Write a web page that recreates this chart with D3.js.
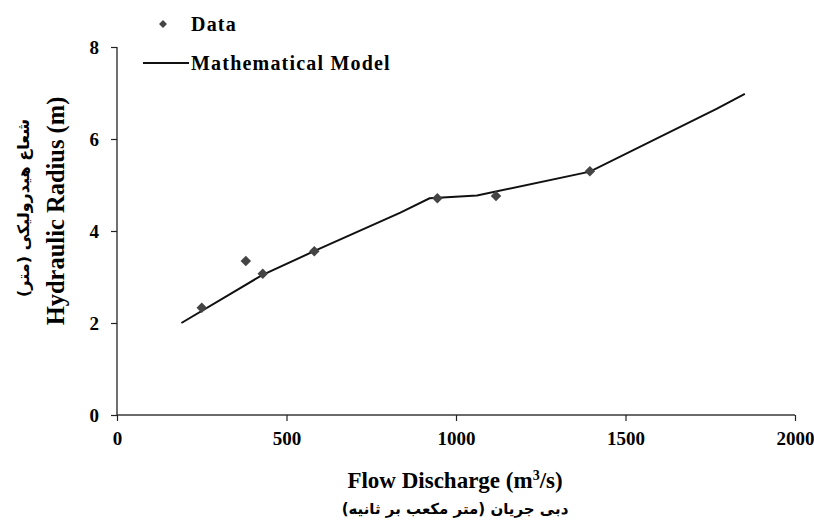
<!DOCTYPE html>
<html>
<head>
<meta charset="utf-8">
<script src="https://cdn.jsdelivr.net/npm/d3@7"></script>
<style>
  html, body { margin: 0; padding: 0; background: #fff; }
  svg { display: block; }
  .lat { font-family: "Liberation Serif", "Times New Roman", serif; font-weight: bold; fill: #000; }
  .fa { font-family: "DejaVu Sans", "Noto Sans", sans-serif; font-weight: bold; fill: #000; }
</style>
</head>
<body>
<svg id="chart" width="814" height="523"></svg>
<script>
// Measured discharge (m3/s) and hydraulic radius (m)
const dataQ = [250, 380, 430, 582, 945, 1118, 1395];
const dataR = [2.33, 3.35, 3.07, 3.56, 4.71, 4.76, 5.30];

// Mathematical model curve
const modelQ = [190, 428, 578, 836, 922, 1062, 1395, 1770, 1852];
const modelR = [2.0, 3.04, 3.55, 4.40, 4.71, 4.77, 5.29, 6.66, 6.98];

const xTicks = [0, 500, 1000, 1500, 2000];
const yTicks = [0, 2, 4, 6, 8];

const legendLabels = ["Data", "Mathematical Model"];
const xTitle = "Flow Discharge (m";
const xTitleFa = "دبی جریان (متر مکعب بر ثانیه)";
const yTitle = "Hydraulic Radius (m)";
const yTitleFa = "شعاع هیدرولیکی (متر)";

const svg = d3.select("#chart");
const plotL = 117, plotR = 795, plotT = 47, plotB = 415;

const x = d3.scaleLinear().domain([0, 2000]).range([plotL, plotR]);
const y = d3.scaleLinear().domain([0, 8]).range([plotB, plotT]);

// Axes
const xAxis = svg.append("g")
  .attr("transform", `translate(0,${plotB})`)
  .call(d3.axisBottom(x).tickValues(xTicks).tickFormat(d3.format("d")).tickSize(6).tickPadding(11));
const yAxis = svg.append("g")
  .attr("transform", `translate(${plotL},0)`)
  .call(d3.axisLeft(y).tickValues(yTicks).tickFormat(d3.format("d")).tickSize(6).tickPadding(12));

[xAxis, yAxis].forEach(g => {
  g.selectAll(".tick line").attr("stroke", "#222").attr("stroke-width", 1.2);
  g.selectAll(".tick text").attr("class", "lat").attr("font-size", 19).attr("fill", "#000");
});
xAxis.select(".domain").attr("d", `M${plotL},0H${plotR}`).attr("stroke", "#6a6a6a").attr("stroke-width", 2);
yAxis.select(".domain").attr("d", `M0,${plotT}V${plotB}`).attr("stroke", "#222").attr("stroke-width", 1.3);

// Model line
const pts = modelQ.map((q, i) => [q, modelR[i]]);
svg.append("path")
  .datum(pts)
  .attr("fill", "none")
  .attr("stroke", "#111")
  .attr("stroke-width", 2)
  .attr("d", d3.line().x(d => x(d[0])).y(d => y(d[1])));

// Data markers
const diamond = d3.symbol().type(d3.symbolDiamond2).size(70);
svg.append("g").selectAll("path")
  .data(dataQ.map((q, i) => [q, dataR[i]]))
  .join("path")
  .attr("transform", d => `translate(${x(d[0])},${y(d[1])})`)
  .attr("d", diamond)
  .attr("fill", "#444");

// Legend
svg.append("path").attr("transform", "translate(163,24)").attr("d", d3.symbol().type(d3.symbolDiamond2).size(40)).attr("fill", "#444");
svg.append("text").attr("class", "lat").attr("x", 191).attr("y", 31).attr("font-size", 20).attr("letter-spacing", 1.2).text(legendLabels[0]);
svg.append("line").attr("x1", 143).attr("x2", 189).attr("y1", 63).attr("y2", 63).attr("stroke", "#111").attr("stroke-width", 2);
svg.append("text").attr("class", "lat").attr("x", 191).attr("y", 70).attr("font-size", 20).attr("letter-spacing", 1.2).text(legendLabels[1]);

// X axis titles
const xt = svg.append("text").attr("class", "lat").attr("x", 455).attr("y", 488)
  .attr("text-anchor", "middle").attr("font-size", 23);
xt.append("tspan").text(xTitle);
xt.append("tspan").attr("font-size", 14).attr("dy", -8).text("3");
xt.append("tspan").attr("dy", 8).text("/s)");
svg.append("text").attr("class", "fa").attr("x", 455).attr("y", 514)
  .attr("text-anchor", "middle").attr("font-size", 15).attr("direction", "rtl").text(xTitleFa);

// Y axis titles
svg.append("text").attr("class", "lat").attr("transform", "translate(64,211) rotate(-90)")
  .attr("text-anchor", "middle").attr("font-size", 24.5).text(yTitle);
svg.append("text").attr("class", "fa").attr("transform", "translate(29,208) rotate(-90)")
  .attr("text-anchor", "middle").attr("font-size", 16).attr("direction", "rtl").text(yTitleFa);
</script>
</body>
</html>
